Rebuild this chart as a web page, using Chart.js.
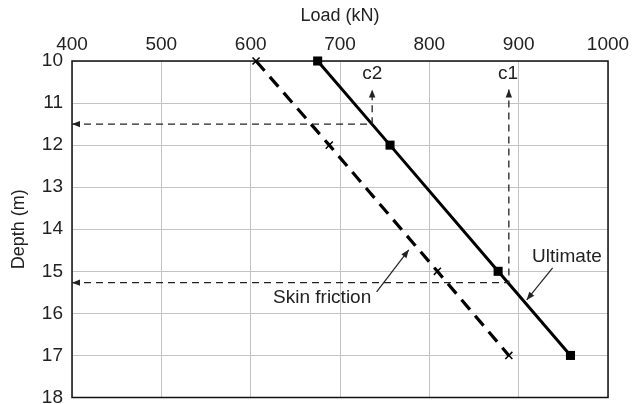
<!DOCTYPE html>
<html>
<head>
<meta charset="utf-8">
<script src="https://cdn.jsdelivr.net/npm/chart.js@4/dist/chart.umd.min.js"></script>
<style>
  body { margin: 0; background: #fff; }
</style>
</head>
<body>
<canvas id="loadChart" width="632" height="404"></canvas>
<script>
// values
var depths = [10, 12, 15, 17];
var ultimateLoad = [675, 756, 877, 958];
var skinFrictionLoad = [606, 688, 809, 889];
var loadTicks = [400, 500, 600, 700, 800, 900, 1000];
var depthTicks = [10, 11, 12, 13, 14, 15, 16, 17, 18];

// dashed guides (load, depth): arrow at both ends
var c2Guide = [[400, 11.5], [736, 11.5], [736, 10.68]];
var c1Guide = [[400, 15.27], [889, 15.27], [889, 10.68]];
var guideLabels = [["c2", 736, 10.31], ["c1", 888, 10.31]];

// series labels with their pointer arrows
var seriesLabels = [["Ultimate", 954, 14.66], ["Skin friction", 680, 15.63]];
var leaders = [
    [[938, 14.92], [909, 15.68]],
    [[741, 15.49], [777, 14.49]]
];

var FONT = "'Liberation Sans', Arial, sans-serif";

function toPoints(xs) {
    return xs.map(function (x, i) { return { x: x, y: depths[i] }; });
}

function arrowHead(ctx, x0, y0, x1, y1) {
    var a = Math.atan2(y1 - y0, x1 - x0);
    var len = 8, half = 3.2;
    ctx.save();
    ctx.setLineDash([]);
    ctx.beginPath();
    ctx.moveTo(x1, y1);
    ctx.lineTo(x1 - len * Math.cos(a) + half * Math.sin(a), y1 - len * Math.sin(a) - half * Math.cos(a));
    ctx.lineTo(x1 - len * Math.cos(a) - half * Math.sin(a), y1 - len * Math.sin(a) + half * Math.cos(a));
    ctx.closePath();
    ctx.fill();
    ctx.restore();
}

var extras = {
    id: 'extras',
    beforeDatasetsDraw: function (chart) {
        var a = chart.chartArea, ctx = chart.ctx;
        ctx.save();
        ctx.strokeStyle = '#111';
        ctx.lineWidth = 1.5;
        ctx.strokeRect(a.left, a.top, a.right - a.left, a.bottom - a.top);
        ctx.restore();
    },
    afterDatasetsDraw: function (chart) {
        var ctx = chart.ctx, xs = chart.scales.x, ys = chart.scales.y;
        function px(p) { return [xs.getPixelForValue(p[0]), ys.getPixelForValue(p[1])]; }
        ctx.save();
        ctx.strokeStyle = '#222';
        ctx.fillStyle = '#222';

        // c1 / c2 guides
        [c2Guide, c1Guide].forEach(function (g) {
            var p = g.map(px);
            ctx.lineWidth = 1.3;
            ctx.setLineDash([7, 5]);
            ctx.beginPath();
            ctx.moveTo(p[0][0], p[0][1]);
            for (var i = 1; i < p.length; i++) ctx.lineTo(p[i][0], p[i][1]);
            ctx.stroke();
            arrowHead(ctx, p[1][0], p[1][1], p[0][0], p[0][1]);
            var n = p.length;
            arrowHead(ctx, p[n - 2][0], p[n - 2][1], p[n - 1][0], p[n - 1][1]);
        });

        // pointer arrows
        ctx.setLineDash([]);
        leaders.forEach(function (l) {
            var s = px(l[0]), e = px(l[1]);
            ctx.lineWidth = 1.2;
            ctx.beginPath();
            ctx.moveTo(s[0], s[1]);
            ctx.lineTo(e[0], e[1]);
            ctx.stroke();
            arrowHead(ctx, s[0], s[1], e[0], e[1]);
        });

        ctx.font = "19px " + FONT;
        ctx.textAlign = 'center';
        ctx.textBaseline = 'middle';
        guideLabels.concat(seriesLabels).forEach(function (t) {
            var p = px([t[1], t[2]]);
            ctx.fillText(t[0], p[0], p[1]);
        });
        ctx.restore();
    }
};

Chart.defaults.font.family = FONT;
Chart.defaults.font.size = 19;
Chart.defaults.color = '#222';

var ctx = document.getElementById("loadChart").getContext("2d");
var loadChart = new Chart(ctx, {
    type: 'line',
    data: {
        datasets: [
            {
                label: "Ultimate",
                data: toPoints(ultimateLoad),
                borderColor: "#000",
                backgroundColor: "#000",
                borderWidth: 3,
                pointStyle: 'rect',
                pointRadius: 6.4,
                pointBorderWidth: 0,
                pointBackgroundColor: "#000",
                tension: 0,
                clip: false
            },
            {
                label: "Skin friction",
                data: toPoints(skinFrictionLoad),
                borderColor: "#000",
                backgroundColor: "#000",
                borderWidth: 3.2,
                borderDash: [13, 8],
                pointStyle: 'crossRot',
                pointRadius: 5,
                pointBorderWidth: 1.5,
                pointBorderColor: "#000",
                tension: 0,
                clip: false
            }
        ]
    },
    options: {
        responsive: false,
        animation: false,
        layout: { padding: { left: 0, top: 0, right: 24, bottom: 6 } },
        plugins: {
            legend: { display: false },
            tooltip: { enabled: false }
        },
        scales: {
            x: {
                type: 'linear',
                position: 'top',
                min: 400,
                max: 1000,
                afterBuildTicks: function (s) { s.ticks = loadTicks.map(function (v) { return { value: v }; }); },
                afterFit: function (s) { s.height = 61; s.paddingLeft = 0; s.paddingRight = 0; },
                grid: { color: '#c4c4c4', lineWidth: 1, drawTicks: false },
                border: { display: false },
                ticks: { padding: 5, callback: function (v) { return String(v); } },
                title: { display: true, text: 'Load (kN)', font: { size: 18 }, padding: { top: 5, bottom: 0 } }
            },
            y: {
                type: 'linear',
                reverse: true,
                min: 10,
                max: 18,
                afterBuildTicks: function (s) { s.ticks = depthTicks.map(function (v) { return { value: v }; }); },
                afterFit: function (s) { s.width = 72; s.paddingTop = 0; s.paddingBottom = 0; },
                grid: { color: '#c4c4c4', lineWidth: 1, drawTicks: false },
                border: { display: false },
                ticks: { padding: 9 },
                title: { display: true, text: 'Depth (m)', font: { size: 18 }, padding: { top: 8, bottom: 0 } }
            }
        }
    },
    plugins: [extras]
});
</script>
</body>
</html>
